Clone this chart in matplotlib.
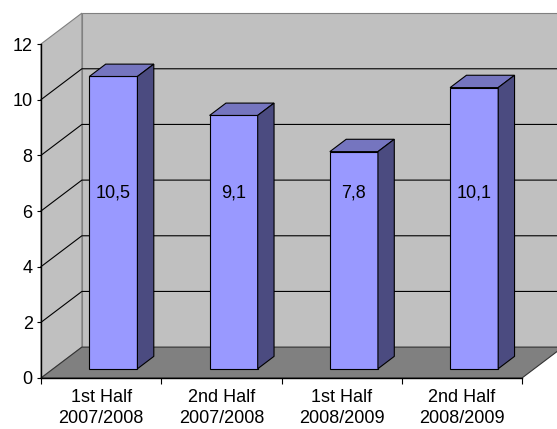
import matplotlib
matplotlib.use("Agg")
import matplotlib.pyplot as plt
from matplotlib.patches import Polygon

# =============================================================================
# Data
# =============================================================================

CATEGORIES = ["1st Half\n2007/2008", "2nd Half\n2007/2008",
              "1st Half\n2008/2009", "2nd Half\n2008/2009"]
VALUES = [10.5, 9.1, 7.8, 10.1]
VALUE_LABELS = ["10,5", "9,1", "7,8", "10,1"]
Y_TICKS = [0, 2, 4, 6, 8, 10, 12]

# =============================================================================
# Style
# =============================================================================

WALL_COLOR = "#C0C0C0"
FLOOR_COLOR = "#808080"
WALL_EDGE = "#808080"
BAR_FRONT = "#9999FF"
BAR_TOP = "#7575BF"
BAR_SIDE = "#4B4B80"

# depth offset of the back wall, in data units (category, value)
DEPTH_X = 0.34
DEPTH_Y = 1.11
BAR_WIDTH = 0.4
BAR_D0, BAR_D1 = 0.3, 0.7
LABEL_LEVEL = 6.3

plt.rcParams["font.family"] = ["Liberation Sans", "DejaVu Sans"]
FONT_SIZE = 13


def p(x, v, d):
    """Project (category position, value, depth 0..1) onto the axes."""
    return (x + d * DEPTH_X, v + d * DEPTH_Y)


def poly(ax, pts, fc, ec, lw=0.8, z=1):
    ax.add_patch(Polygon(pts, closed=True, facecolor=fc, edgecolor=ec,
                         linewidth=lw, clip_on=False, zorder=z))


fig = plt.figure(figsize=(5.57, 4.29), dpi=100, facecolor="white")
ax = fig.add_axes([41 / 557, 51 / 429, 481 / 557, 334 / 429])
ax.set_facecolor("none")

n = len(CATEGORIES)
ymax = Y_TICKS[-1]
ax.set_xlim(0, n)
ax.set_ylim(0, ymax)

# ---------------------------------------------------------
# Walls and floor
# ---------------------------------------------------------
xr = n + 2  # back wall runs off the right edge
poly(ax, [p(0, 0, 1), p(xr, 0, 1), p(xr, ymax, 1), p(0, ymax, 1)],
     WALL_COLOR, WALL_EDGE, z=1)
poly(ax, [p(0, 0, 0), p(0, 0, 1), p(0, ymax, 1), p(0, ymax, 0)],
     WALL_COLOR, WALL_EDGE, z=1)
poly(ax, [p(0, 0, 0), p(n, 0, 0), p(n, 0, 1), p(0, 0, 1)],
     FLOOR_COLOR, "#333333", z=2)

# gridlines on back wall and side wall
for t in Y_TICKS[1:-1]:
    xs, ys = zip(p(0, t, 0), p(0, t, 1), p(xr, t, 1))
    ax.plot(xs, ys, color="black", linewidth=0.8, clip_on=False, zorder=2)

# ---------------------------------------------------------
# Bars
# ---------------------------------------------------------
for i, v in enumerate(VALUES):
    x0 = i + 0.5 - BAR_WIDTH / 2
    x1 = i + 0.5 + BAR_WIDTH / 2
    poly(ax, [p(x0, 0, BAR_D0), p(x1, 0, BAR_D0),
              p(x1, v, BAR_D0), p(x0, v, BAR_D0)], BAR_FRONT, "black", z=3)
    poly(ax, [p(x0, v, BAR_D0), p(x1, v, BAR_D0),
              p(x1, v, BAR_D1), p(x0, v, BAR_D1)], BAR_TOP, "black", z=3)
    poly(ax, [p(x1, 0, BAR_D0), p(x1, 0, BAR_D1),
              p(x1, v, BAR_D1), p(x1, v, BAR_D0)], BAR_SIDE, "black", z=3)
    lx, ly = p(i + 0.5, LABEL_LEVEL, BAR_D0)
    ax.text(lx, ly, VALUE_LABELS[i], ha="center", va="center",
            fontsize=FONT_SIZE, color="black", zorder=4)

# ---------------------------------------------------------
# Axes
# ---------------------------------------------------------
for s in ["top", "right"]:
    ax.spines[s].set_visible(False)
for s in ["left", "bottom"]:
    ax.spines[s].set_color("black")
    ax.spines[s].set_linewidth(1.0)
    ax.spines[s].set_zorder(5)

ax.set_yticks(Y_TICKS)
ax.set_yticklabels([str(t) for t in Y_TICKS], fontsize=FONT_SIZE)
ax.tick_params(axis="y", length=3, width=0.8, pad=3)

ax.set_xticks(range(n + 1))
ax.set_xticklabels([])
ax.set_xticks([i + 0.5 for i in range(n)], minor=True)
ax.set_xticklabels(CATEGORIES, minor=True, fontsize=FONT_SIZE,
                   linespacing=1.3)
ax.tick_params(axis="x", which="major", length=4, width=0.8)
ax.tick_params(axis="x", which="minor", length=0, pad=8)

fig.savefig("out.png", dpi=100, facecolor="white")
plt.close(fig)
